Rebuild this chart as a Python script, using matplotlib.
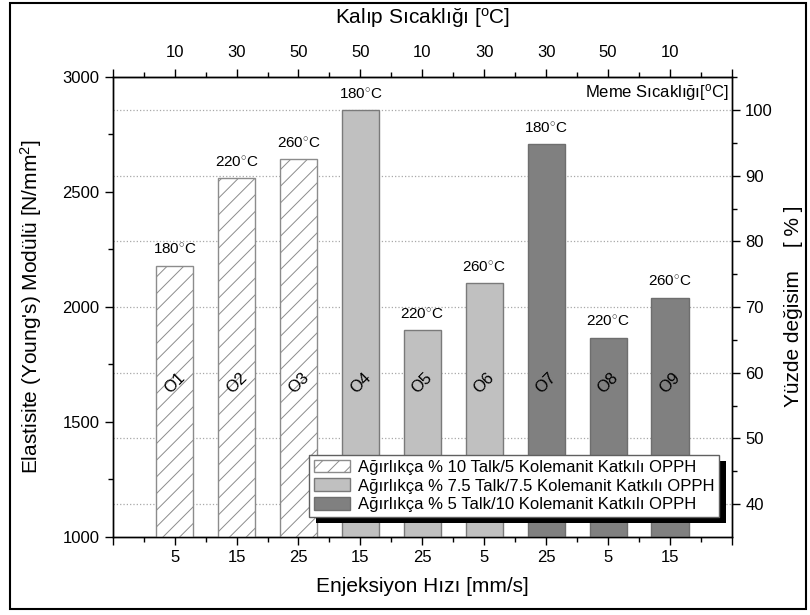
import matplotlib
matplotlib.use("Agg")
import matplotlib.pyplot as plt
from matplotlib.patches import Patch, Rectangle
from matplotlib.ticker import MultipleLocator, FixedLocator

plt.rcParams['font.family'] = ['Liberation Sans', 'DejaVu Sans']
plt.rcParams['mathtext.fontset'] = 'custom'
plt.rcParams['mathtext.rm'] = 'Liberation Sans'
plt.rcParams['mathtext.it'] = 'Liberation Sans:italic'
plt.rcParams['hatch.linewidth'] = 0.7

# ---- data ----
categories = ['O1', 'O2', 'O3', 'O4', 'O5', 'O6', 'O7', 'O8', 'O9']
modulus = [2178, 2560, 2640, 2855, 1899, 2103, 2706, 1865, 2040]
nozzle_temp = ['180', '220', '260', '180', '220', '260', '180', '220', '260']
mold_temp = ['10', '30', '50', '50', '10', '30', '30', '50', '10']
injection_speed = ['5', '15', '25', '15', '25', '5', '25', '5', '15']
group = [0, 0, 0, 1, 1, 1, 2, 2, 2]
legend_labels = ['Ağırlıkça % 10 Talk/5 Kolemanit Katkılı OPPH',
                 'Ağırlıkça % 7.5 Talk/7.5 Kolemanit Katkılı OPPH',
                 'Ağırlıkça % 5 Talk/10 Kolemanit Katkılı OPPH']
ref_index = 3  # O4 = 100 %

group_face = ['white', '#c0c0c0', '#808080']
group_hatch = ['//', None, None]
group_edge = ['#8c8c8c', '#7a7a7a', '#6e6e6e']

fig = plt.figure(figsize=(8.1, 6.15), dpi=100)
ax = fig.add_axes([0.1391, 0.1273, 0.7646, 0.7480])
ax2 = ax.twinx()
ax.set_zorder(ax2.get_zorder() + 1)
ax.patch.set_visible(False)

x = list(range(1, len(categories) + 1))
for xi, v, g in zip(x, modulus, group):
    ax.bar(xi, v - 1000, bottom=1000, width=0.6, facecolor=group_face[g],
           edgecolor=group_edge[g], hatch=group_hatch[g], linewidth=1.0, zorder=2)

for xi, v, t, c in zip(x, modulus, nozzle_temp, categories):
    ax.annotate(t + r'$^{\circ}$C', (xi, v), xytext=(0, 6),
                textcoords='offset points', ha='center', va='bottom', fontsize=11)
    ax.text(xi, 1668, c, rotation=45, ha='center', va='center', fontsize=12, zorder=3)

ax.set_xlim(0, 10)
ax.set_ylim(1000, 3000)
ax.yaxis.set_major_locator(MultipleLocator(500))
ax.yaxis.set_minor_locator(MultipleLocator(250))
ax.set_xticks(range(0, 11))
ax.set_xticklabels([''] + injection_speed + [''])
ax.xaxis.set_minor_locator(MultipleLocator(0.5))
ax.tick_params(axis='both', which='major', direction='out', length=6, width=1, labelsize=12)
ax.tick_params(axis='both', which='minor', direction='out', length=3.5, width=1)

ref = modulus[ref_index]
ax2.set_ylim(1000 / ref * 100, 3000 / ref * 100)
ax2.yaxis.set_major_locator(FixedLocator([40, 50, 60, 70, 80, 90, 100]))
ax2.yaxis.set_minor_locator(MultipleLocator(5))
ax2.tick_params(axis='y', which='major', direction='out', length=6, width=1, labelsize=12)
ax2.tick_params(axis='y', which='minor', direction='out', length=3.5, width=1)
ax2.grid(True, axis='y', which='major', linestyle=':', color='#a8a8a8', linewidth=0.9)
ax2.set_ylabel('Yüzde değisim    [ % ]', fontsize=15, labelpad=8)

top = ax.secondary_xaxis('top')
top.set_xticks(range(0, 11))
top.set_xticklabels([''] + mold_temp + [''])
top.xaxis.set_minor_locator(MultipleLocator(0.5))
top.tick_params(axis='x', which='major', direction='out', length=6, width=1,
                labelsize=12, pad=6)
top.tick_params(axis='x', which='minor', direction='out', length=3.5, width=1)
top.set_xlabel(r'Kalıp Sıcaklığı [$^{\mathrm{o}}$C]', fontsize=15, labelpad=15)

for a in (ax, ax2):
    for s in a.spines.values():
        s.set_linewidth(1.0)

ax.set_xlabel('Enjeksiyon Hızı [mm/s]', fontsize=15, labelpad=9)
ax.set_ylabel(r"Elastisite (Young's) Modülü [N/mm$^{2}$]", fontsize=15, labelpad=13)

ax.text(0.995, 0.965, r'Meme Sıcaklığı[$^{\mathrm{o}}$C]', transform=ax.transAxes,
        ha='right', va='center', fontsize=12)

handles = [Patch(facecolor=group_face[i], edgecolor=group_edge[i], hatch=group_hatch[i],
                 linewidth=1.0) for i in range(3)]
leg = ax.legend(handles, legend_labels, loc='lower right', bbox_to_anchor=(0.9795, 0.042),
                borderaxespad=0, fontsize=12, frameon=True, fancybox=False,
                edgecolor='#606060', framealpha=1, handlelength=2.2, handleheight=0.8,
                labelspacing=0.22, borderpad=0.3, handletextpad=0.45)
leg.get_frame().set_linewidth(1.0)
leg.set_zorder(6)

fig.canvas.draw()
bb = leg.get_window_extent()
shadow = Rectangle((bb.x0 + 7, bb.y0 - 6), bb.width, bb.height, transform=None,
                   facecolor='black', edgecolor='none', zorder=5.5, clip_on=False)
ax.add_artist(shadow)

fig.patches.append(Rectangle((10 / 810, 6 / 615), 796 / 810, 606 / 615,
                             transform=fig.transFigure, fill=False,
                             edgecolor='black', linewidth=1.5))

fig.savefig('out.png', dpi=100)
